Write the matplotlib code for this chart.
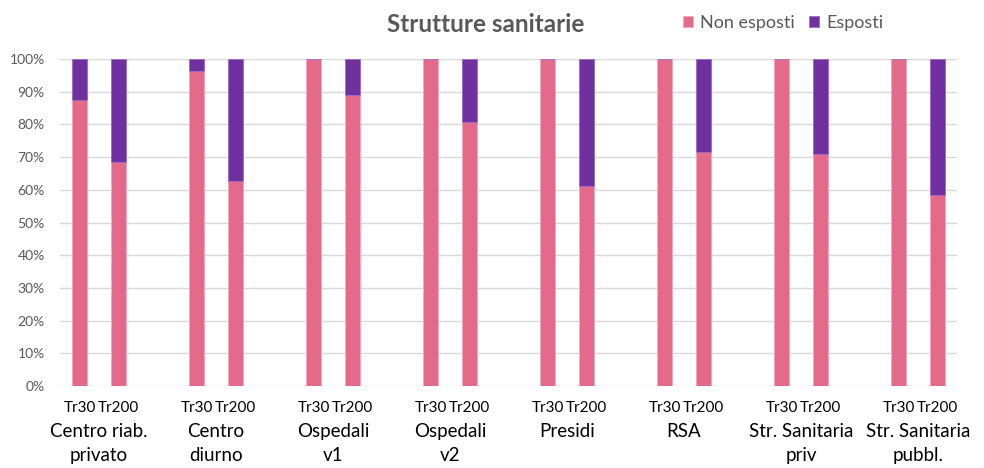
import numpy as np
import matplotlib
matplotlib.use("Agg")
import matplotlib.pyplot as plt
import matplotlib.transforms as mtransforms

plt.rcParams['font.family'] = ['Lato', 'DejaVu Sans']

groups = ["Centro riab.\nprivato", "Centro\ndiurno", "Ospedali\nv1", "Ospedali\nv2",
          "Presidi", "RSA", "Str. Sanitaria\npriv", "Str. Sanitaria\npubbl."]
scenarios = ["Tr30", "Tr200"]
# share of non-exposed (%) for Tr30 and Tr200 in each group
non_esposti_tr30 = [87.4, 96.3, 100.0, 100.0, 100.0, 100.0, 100.0, 100.0]
non_esposti_tr200 = [68.4, 62.7, 88.9, 80.6, 61.3, 71.7, 70.9, 58.4]

pink = "#E46A8C"
purple = "#7030A0"

fig = plt.figure(figsize=(9.84, 4.68), dpi=100)
ax = fig.add_axes([60 / 984, 1 - 386 / 468, 897 / 984, 327 / 468])

pos_tr30 = np.arange(len(groups)) * 3
pos_tr200 = pos_tr30 + 1
positions = np.concatenate([pos_tr30, pos_tr200])
non_exp = np.array(non_esposti_tr30 + non_esposti_tr200)
exp = 100.0 - non_exp

w = 0.39
ax.bar(positions, non_exp, width=w, color=pink, edgecolor="#F4A7BD", linewidth=0.6,
       label="Non esposti", zorder=3)
ax.bar(positions, exp, bottom=non_exp, width=w, color=purple, edgecolor="#9A6CC4",
       linewidth=0.6, label="Esposti", zorder=3)

ax.set_xlim(-0.5, 3 * len(groups) - 1 - 0.5)
ax.set_ylim(0, 100)
ax.set_yticks(np.arange(0, 101, 10))
ax.set_yticklabels([f"{v}%" for v in range(0, 101, 10)], fontsize=10, color="#595959")
ax.yaxis.grid(True, color="#D9D9D9", linewidth=1.0, zorder=0)
ax.set_axisbelow(True)
for s in ax.spines.values():
    s.set_visible(False)
ax.tick_params(axis="y", length=0, pad=11)

order = np.argsort(positions)
ax.set_xticks(positions[order])
ax.set_xticklabels([scenarios[0] if p % 3 == 0 else scenarios[1] for p in positions[order]],
                   fontsize=11, color="#000000")
ax.tick_params(axis="x", length=0, pad=11)

trans = mtransforms.blended_transform_factory(ax.transData, fig.transFigure)
for i, g in enumerate(groups):
    ax.text(pos_tr30[i] + 0.5, 1 - 423 / 468, g, transform=trans, ha="center", va="top",
            fontsize=13.5, color="#000000", linespacing=1.5, clip_on=False)

fig.text(486 / 984, 1 - 24 / 468, "Strutture sanitarie", ha="center", va="center",
         fontsize=17.5, fontweight="bold", color="#595959")

leg = fig.legend(loc="center", bbox_to_anchor=(783 / 984, 1 - 23 / 468), ncol=2,
                 frameon=False, fontsize=13, handlelength=0.55, handleheight=0.55,
                 handletextpad=0.4, columnspacing=0.8, labelcolor="#595959")

fig.savefig("out.png", dpi=100)
